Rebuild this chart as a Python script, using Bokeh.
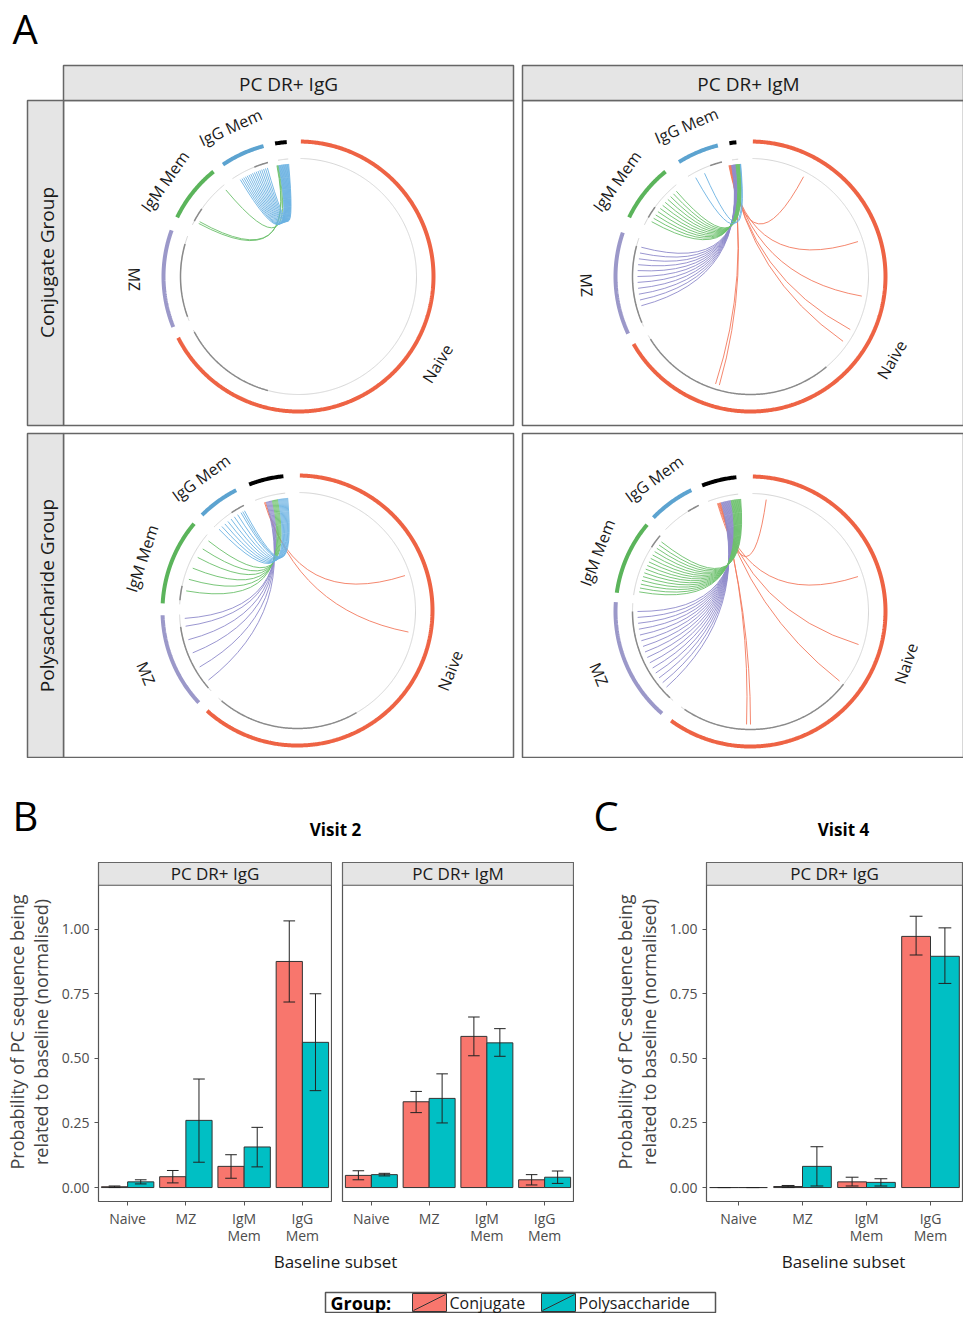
import numpy as np
from bokeh.plotting import figure
from bokeh.layouts import column, row
from bokeh.models import Range1d, FixedTicker
from bokeh.core.properties import value
from bokeh.embed import file_html
from bokeh.resources import INLINE

FONT = "Open Sans"
# ---------------- data: chord diagrams ----------------
subsets = ["Naive", "MZ", "IgM Mem", "IgG Mem", "PC"]
sector_colors = {"Naive": "#ee6344", "MZ": "#9b98c9", "IgM Mem": "#5bb45b", "IgG Mem": "#5ca3d0", "PC": "#000000"}
chord_colors = {"Naive": "#f37a5e", "MZ": "#8f8bcb", "IgM Mem": "#6cc06c", "IgG Mem": "#6db2e2"}
sectors_p1 = {"Naive": (1, 243), "MZ": (248, 290), "IgM Mem": (296, 321), "IgG Mem": (326, 345), "PC": (350, 355)}
sectors_p2 = {"Naive": (1, 240), "MZ": (245, 289), "IgM Mem": (296, 321), "IgG Mem": (328, 346), "PC": (351, 354)}
sectors_p3 = {"Naive": (1, 222), "MZ": (227, 268), "IgM Mem": (273, 310), "IgG Mem": (315, 333), "PC": (339, 354)}
sectors_p4 = {"Naive": (1, 216), "MZ": (221, 274), "IgM Mem": (278, 310), "IgG Mem": (314, 334), "PC": (339, 354)}
dark_p1 = [(195, 242), (250, 286), (298, 305), (338, 345)]
dark_p2 = [(140, 238), (247, 285), (300, 306), (340, 346)]
dark_p3 = [(150, 220), (229, 262), (275, 282), (326, 333)]
dark_p4 = [(128, 214), (223, 270), (303, 310), (328, 334)]
chords_p1 = {"IgM Mem": [298, 299, 320],
             "IgG Mem": [329, 330, 331, 332, 333, 334, 335, 336, 337, 338, 339, 340, 341, 342, 343, 344]}
chords_p2 = {"Naive": [28, 72, 100, 118, 125, 196, 198],
             "MZ": [255, 258, 261, 264, 267, 270, 273, 276, 279, 282, 285],
             "IgM Mem": [299, 301, 303, 305, 307, 309, 311, 313, 315, 317, 319],
             "IgG Mem": [331, 336]}
chords_p3 = {"Naive": [72, 101],
             "MZ": [232, 240, 248, 255, 262, 266],
             "IgM Mem": [280, 286, 292, 298, 303, 308],
             "IgG Mem": [316, 318, 320, 322, 324, 326, 328, 330, 331, 332]}
chords_p4 = {"Naive": [8, 72, 107, 128, 180, 182],
             "MZ": [228, 231, 234, 237, 240, 243, 246, 249, 252, 255, 258, 261, 264, 267, 270],
             "IgM Mem": [280, 282, 284, 286, 288, 290, 292, 294, 296, 298, 300, 302, 304, 306, 308]}
targets = [(349, 355), (349, 355), (343, 355), (343, 355)]
col_labels = ["PC DR+ IgG", "PC DR+ IgM"]
row_labels = ["Conjugate Group", "Polysaccharide Group"]

# ---------------- data: bar charts ----------------
baseline = ["Naive", "MZ", "IgM\nMem", "IgG\nMem"]
b1_conj = [0.003, 0.042, 0.082, 0.875]; b1_conj_lo = [0.0, 0.018, 0.036, 0.718]; b1_conj_hi = [0.006, 0.066, 0.127, 1.032]
b1_poly = [0.022, 0.26, 0.157, 0.562]; b1_poly_lo = [0.014, 0.098, 0.08, 0.375]; b1_poly_hi = [0.03, 0.42, 0.233, 0.75]
b2_conj = [0.047, 0.332, 0.585, 0.03]; b2_conj_lo = [0.03, 0.29, 0.51, 0.01]; b2_conj_hi = [0.065, 0.372, 0.66, 0.05]
b2_poly = [0.05, 0.345, 0.56, 0.04]; b2_poly_lo = [0.045, 0.25, 0.508, 0.016]; b2_poly_hi = [0.055, 0.44, 0.615, 0.064]
c_conj = [0.0, 0.004, 0.022, 0.972]; c_conj_lo = [0.0, 0.0, 0.006, 0.9]; c_conj_hi = [0.0, 0.008, 0.04, 1.05]
c_poly = [0.0, 0.082, 0.02, 0.895]; c_poly_lo = [0.0, 0.006, 0.006, 0.79]; c_poly_hi = [0.0, 0.158, 0.034, 1.005]
y_ticks = [0.0, 0.25, 0.5, 0.75, 1.0]
CONJ = "#F8766D"; POLY = "#00BFC4"

# ---------------- panel A ----------------
W = 963
pa = figure(width=W, height=758, x_range=Range1d(0, W), y_range=Range1d(758, 0),
            output_backend="svg", toolbar_location=None, min_border=0)
pa.axis.visible = False; pa.grid.visible = False; pa.outline_line_color = None

pa.text([12], [28], text=["A"], text_font=value(FONT), text_font_size="40px", text_baseline="middle")
panels = [(63, 513, 100, 425), (522, 963, 100, 425), (63, 513, 433, 757), (522, 963, 433, 757)]
for (x0, x1, y0, y1) in panels:
    pa.quad(left=x0, right=x1, top=y0, bottom=y1, fill_color="white", line_color="#666666", line_width=1.5)
pa.quad(left=[63, 522], right=[513, 963], top=[65, 65], bottom=[100, 100], fill_color="#e5e5e5", line_color="#666666", line_width=1.5)
pa.text([288, 748], [83, 83], text=col_labels, text_font=value(FONT), text_font_size="19px",
        text_align="center", text_baseline="middle", text_color="#1a1a1a")
pa.quad(left=[27, 27], right=[63, 63], top=[100, 433], bottom=[425, 757], fill_color="#e5e5e5", line_color="#666666", line_width=1.5)
pa.text([46, 46], [262, 595], text=row_labels, angle=np.pi / 2, text_font=value(FONT), text_font_size="19px",
        text_align="center", text_baseline="middle", text_color="#1a1a1a")

def P(cx, cy, r, th):
    t = np.deg2rad(np.asarray(th, dtype=float))
    return cx + r * np.sin(t), cy - r * np.cos(t)

def arc(cx, cy, r, a0, a1):
    th = np.linspace(a0, a1, max(4, int(abs(a1 - a0) * 2)))
    return P(cx, cy, r, th)

R_OUT, R_TRK, R_CH = 135, 118, 113
centers = [(298, 276), (750, 276), (297, 610), (750, 611)]
all_sectors = [sectors_p1, sectors_p2, sectors_p3, sectors_p4]
all_dark = [dark_p1, dark_p2, dark_p3, dark_p4]
all_chords = [chords_p1, chords_p2, chords_p3, chords_p4]
for (cx, cy), sec, dark, chords, (t0, t1) in zip(centers, all_sectors, all_dark, all_chords, targets):
    xs, ys, cols = [], [], []
    txs, tys = [], []
    for name in subsets:
        a0, a1 = sec[name]
        x, y = arc(cx, cy, R_OUT, a0, a1); xs.append(x); ys.append(y); cols.append(sector_colors[name])
        x, y = arc(cx, cy, R_TRK, a0, a1); txs.append(x); tys.append(y)
    pa.multi_line(xs, ys, line_color=cols, line_width=4)
    pa.multi_line(txs, tys, line_color="#d6d6d6", line_width=1)
    dxs, dys = [], []
    for a0, a1 in dark:
        x, y = arc(cx, cy, R_TRK, a0, a1); dxs.append(x); dys.append(y)
    pa.multi_line(dxs, dys, line_color="#8a8a8a", line_width=1.5)
    src = []
    for name, angs in chords.items():
        for a in angs:
            src.append((a, name))
    src.sort()
    n = len(src)
    tg = [t0 + (t1 - t0) * i / max(1, n - 1) for i in range(n)]
    sx, sy = P(cx, cy, R_CH, [s[0] for s in src])
    ex, ey = P(cx, cy, R_CH, tg)
    pa.quadratic(x0=sx, y0=sy, x1=ex, y1=ey, cx=[cx] * n, cy=[cy] * n,
                 line_color=[chord_colors[s[1]] for s in src], line_width=1, line_alpha=0.9)
    lx, ly, la, lt = [], [], [], []
    for name in subsets[:4]:
        a0, a1 = sec[name]
        m = (a0 + a1) / 2
        if name == "IgM Mem":
            m -= 3
        x, y = P(cx, cy, R_OUT + 29, m)
        ang = 180 - m
        if ang < -91: ang += 180
        if ang > 90: ang -= 180
        lx.append(x); ly.append(y); la.append(np.deg2rad(ang)); lt.append(name)
    pa.text(lx, ly, text=lt, angle=la, text_font=value(FONT), text_font_size="16px",
            text_align="center", text_baseline="middle", text_color="#1a1a1a")

# ---------------- header for B / C ----------------
ph = figure(width=W, height=100, x_range=Range1d(0, W), y_range=Range1d(858, 758),
            output_backend="svg", toolbar_location=None, min_border=0)
ph.axis.visible = False; ph.grid.visible = False; ph.outline_line_color = None
ph.text([12, 593], [815, 815], text=["B", "C"], text_font=value(FONT), text_font_size="40px", text_baseline="middle")
ph.text([335, 843], [829, 829], text=["Visit 2", "Visit 4"], text_font=value(FONT), text_font_size="17px",
        text_font_style="bold", text_align="center", text_baseline="middle")

# ---------------- bars ----------------
Y_TOP = 1.17
STRIP_TOP = 1.258

def bars(title, conj, clo, chi, poly, plo, phi, width, left, yaxis):
    p = figure(width=width, height=389, x_range=Range1d(0.5, 4.5), y_range=Range1d(-0.054, STRIP_TOP),
               output_backend="svg", toolbar_location=None, min_border_left=left, min_border_right=1,
               min_border_top=4, min_border_bottom=38)
    p.grid.visible = False
    p.outline_line_color = "#555555"; p.outline_line_width = 1.2
    p.quad(left=[0.5], right=[4.5], bottom=[Y_TOP], top=[STRIP_TOP], fill_color="#e5e5e5",
           line_color="#555555", line_width=1.2)
    p.text([2.5], [(Y_TOP + STRIP_TOP) / 2], text=[title], text_font=value(FONT), text_font_size="17px",
           text_align="center", text_baseline="middle", text_color="#1a1a1a")
    xs = np.arange(1, 5)
    p.vbar(x=xs - 0.225, top=conj, bottom=0, width=0.45, fill_color=CONJ, line_color="#333333", line_width=1)
    p.vbar(x=xs + 0.225, top=poly, bottom=0, width=0.45, fill_color=POLY, line_color="#333333", line_width=1)
    for off, lo, hi in ((-0.225, clo, chi), (0.225, plo, phi)):
        x = xs + off
        p.segment(x0=x, y0=lo, x1=x, y1=hi, line_color="#222222", line_width=1)
        p.segment(x0=x - 0.1, y0=lo, x1=x + 0.1, y1=lo, line_color="#222222", line_width=1)
        p.segment(x0=x - 0.1, y0=hi, x1=x + 0.1, y1=hi, line_color="#222222", line_width=1)
    p.xaxis.ticker = FixedTicker(ticks=list(xs))
    p.xaxis.major_label_overrides = {int(i): l for i, l in zip(xs, baseline)}
    p.xaxis.major_label_text_font = FONT; p.xaxis.major_label_text_font_size = "14px"
    p.xaxis.major_label_text_color = "#4d4d4d"; p.xaxis.major_label_text_line_height = 0.9
    p.xaxis.axis_line_color = None; p.xaxis.minor_tick_line_color = None
    p.xaxis.major_tick_in = 0; p.xaxis.major_tick_out = 4; p.xaxis.major_tick_line_color = "#555555"
    p.xaxis.major_label_standoff = 3
    if yaxis:
        p.yaxis.ticker = FixedTicker(ticks=y_ticks)
        p.yaxis.major_label_overrides = {0: "0.00", 0.25: "0.25", 0.5: "0.50", 0.75: "0.75", 1: "1.00"}
        p.yaxis.major_label_text_font = FONT; p.yaxis.major_label_text_font_size = "14px"
        p.yaxis.major_label_text_color = "#4d4d4d"
        p.yaxis.axis_line_color = None; p.yaxis.minor_tick_line_color = None
        p.yaxis.major_tick_in = 0; p.yaxis.major_tick_out = 4; p.yaxis.major_tick_line_color = "#555555"
        p.yaxis.axis_label = "Probability of PC sequence being\nrelated to baseline (normalised)"
        p.yaxis.axis_label_text_font = FONT; p.yaxis.axis_label_text_font_size = "18px"
        p.yaxis.axis_label_text_font_style = "normal"; p.yaxis.axis_label_standoff = 6
        p.yaxis.axis_label_text_line_height = 1.0
    else:
        p.yaxis.visible = False
    return p

b1 = bars("PC DR+ IgG", b1_conj, b1_conj_lo, b1_conj_hi, b1_poly, b1_poly_lo, b1_poly_hi, 332, 98, True)
b2 = bars("PC DR+ IgM", b2_conj, b2_conj_lo, b2_conj_hi, b2_poly, b2_poly_lo, b2_poly_hi, 242, 10, False)
c1 = bars("PC DR+ IgG", c_conj, c_conj_lo, c_conj_hi, c_poly, c_poly_lo, c_poly_hi, 389, 132, True)

# ---------------- footer ----------------
pf = figure(width=W, height=66, x_range=Range1d(0, W), y_range=Range1d(1313, 1247),
            output_backend="svg", toolbar_location=None, min_border=0)
pf.axis.visible = False; pf.grid.visible = False; pf.outline_line_color = None
pf.text([335, 843], [1261, 1261], text=["Baseline subset", "Baseline subset"], text_font=value(FONT),
        text_font_size="17px", text_align="center", text_baseline="middle", text_color="#1a1a1a")
pf.quad(left=[325], right=[715], top=[1292], bottom=[1312], fill_color="white", line_color="#555555", line_width=1.5)
pf.text([330], [1302], text=["Group:"], text_font=value(FONT), text_font_size="18px", text_font_style="bold",
        text_baseline="middle")
pf.quad(left=[412, 541], right=[446, 575], top=[1293, 1293], bottom=[1311, 1311], fill_color=[CONJ, POLY],
        line_color="#333333", line_width=1)
pf.segment(x0=[413, 542], y0=[1310, 1310], x1=[445, 574], y1=[1294, 1294], line_color="#333333", line_width=1)
pf.text([449, 578], [1302, 1302], text=["Conjugate", "Polysaccharide"], text_font=value(FONT),
        text_font_size="16px", text_baseline="middle", text_color="#1a1a1a")

layout = column(pa, ph, row(b1, b2, c1, spacing=0), pf, spacing=0)
open("out.html", "w").write(file_html(layout, INLINE))
